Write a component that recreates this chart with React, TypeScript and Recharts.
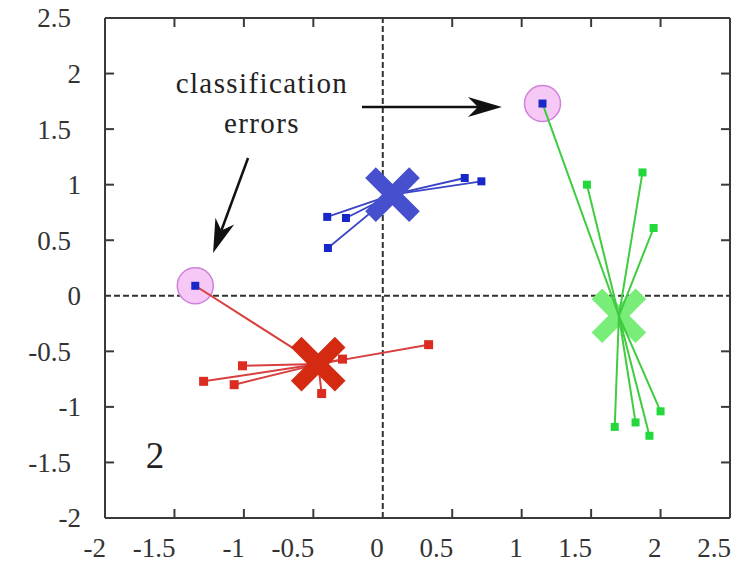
import React from "react";
import {
  ScatterChart,
  Scatter,
  XAxis,
  YAxis,
  ReferenceLine,
  ReferenceDot,
} from "recharts";

// ---- data ----
const xTicks = [-2, -1.5, -1, -0.5, 0, 0.5, 1, 1.5, 2, 2.5];
const yTicks = [-2, -1.5, -1, -0.5, 0, 0.5, 1, 1.5, 2, 2.5];
const innerXTicks = [-1.5, -1, -0.5, 0.5, 1, 1.5, 2];
const innerYTicks = [-1.5, -1, -0.5, 0.5, 1, 1.5, 2];
const frameX = [-2, 2.5];
const frameY = [-2, 2.5];

const blueCentroid = [{ x: 0.07, y: 0.91 }];
const bluePoints = [
  { x: -0.4, y: 0.71 },
  { x: -0.265, y: 0.7 },
  { x: -0.395, y: 0.43 },
  { x: 0.59, y: 1.06 },
  { x: 0.71, y: 1.03 },
];

const redCentroid = [{ x: -0.465, y: -0.615 }];
const redPoints = [
  { x: -1.01, y: -0.63 },
  { x: -1.29, y: -0.77 },
  { x: -1.07, y: -0.8 },
  { x: -0.44, y: -0.88 },
  { x: -0.29, y: -0.57 },
  { x: 0.33, y: -0.44 },
];

const greenCentroid = [{ x: 1.7, y: -0.18 }];
const greenPoints = [
  { x: 1.47, y: 1.0 },
  { x: 1.87, y: 1.11 },
  { x: 1.95, y: 0.61 },
  { x: 1.67, y: -1.18 },
  { x: 1.82, y: -1.14 },
  { x: 1.92, y: -1.26 },
  { x: 2.0, y: -1.04 },
];

// misclassified blue points and the centroid they were assigned to
const errorToRed = [{ x: -1.35, y: 0.09 }];
const errorToGreen = [{ x: 1.15, y: 1.73 }];
const errorPoints = [...errorToRed, ...errorToGreen];

const annotationLines = ["classification", "errors"];
const annotationPos = [
  { x: -0.87, y: 1.825 },
  { x: -0.87, y: 1.465 },
];
const panelLabel = "2";
const panelLabelPos = { x: -1.64, y: -1.55 };

const arrows = [
  { from: { x: -0.97, y: 1.24 }, to: { x: -1.222, y: 0.385 } },
  { from: { x: -0.15, y: 1.7 }, to: { x: 0.858, y: 1.7 } },
];

// ---- styles ----
const FONT =
  '"Liberation Serif", "Times New Roman", Times, Tinos, "Noto Serif", "DejaVu Serif", serif';
const FRAME = "#3a3a3a";
const BLUE_X = "#4650cf";
const BLUE_SQ = "#1828c8";
const BLUE_LINE = "#3a44c6";
const RED_X = "#d42a12";
const RED_SQ = "#dc2c22";
const RED_LINE = "#d84040";
const GREEN_X = "#78ee78";
const GREEN_SQ = "#22d83a";
const GREEN_LINE = "#40cc40";

const makeSegments = (c: { x: number; y: number }, pts: { x: number; y: number }[]) =>
  pts.map((p) => [c, p]);

const blueSegs = makeSegments(blueCentroid[0], bluePoints);
const redSegs = makeSegments(redCentroid[0], [...redPoints, ...errorToRed]);
const greenSegs = makeSegments(greenCentroid[0], [...greenPoints, ...errorToGreen]);

const Empty = () => <g />;

const squareShape = (fill: string, size: number) => (p: any) => (
  <rect x={p.cx - size / 2} y={p.cy - size / 2} width={size} height={size} fill={fill} />
);

const crossShape = (color: string) => (p: any) => {
  const a = 22;
  return (
    <g>
      <line x1={p.cx - a} y1={p.cy - a} x2={p.cx + a} y2={p.cy + a} stroke={color} strokeWidth={15} />
      <line x1={p.cx - a} y1={p.cy + a} x2={p.cx + a} y2={p.cy - a} stroke={color} strokeWidth={15} />
    </g>
  );
};

const circleShape = (p: any) => (
  <circle cx={p.cx} cy={p.cy} r={18} fill="#f6c8f6" stroke="#cf82dc" strokeWidth={1.5} />
);

const arrowShape = (p: any) => {
  const { x1, y1, x2, y2 } = p;
  const dx = x2 - x1;
  const dy = y2 - y1;
  const L = Math.hypot(dx, dy) || 1;
  const ux = dx / L;
  const uy = dy / L;
  const nx = -uy;
  const ny = ux;
  const hl = 34;
  const hw = 10;
  const notch = 24;
  const pts = [
    [x2, y2],
    [x2 - ux * hl + nx * hw, y2 - uy * hl + ny * hw],
    [x2 - ux * notch, y2 - uy * notch],
    [x2 - ux * hl - nx * hw, y2 - uy * hl - ny * hw],
  ]
    .map((q) => q.join(","))
    .join(" ");
  return (
    <g>
      <line x1={x1} y1={y1} x2={x2 - ux * notch} y2={y2 - uy * notch} stroke="#111" strokeWidth={2.5} />
      <polygon points={pts} fill="#111" />
    </g>
  );
};

// short inward tick marks at both ends of a full-height/width reference line
const tickMarks = (p: any) => {
  const { x1, y1, x2, y2 } = p;
  const L = 9;
  if (Math.abs(x1 - x2) < 0.5) {
    const top = Math.min(y1, y2);
    const bot = Math.max(y1, y2);
    return (
      <g>
        <line x1={x1} y1={top} x2={x1} y2={top + L} stroke={FRAME} strokeWidth={2} />
        <line x1={x1} y1={bot} x2={x1} y2={bot - L} stroke={FRAME} strokeWidth={2} />
      </g>
    );
  }
  const left = Math.min(x1, x2);
  const right = Math.max(x1, x2);
  return (
    <g>
      <line x1={left} y1={y1} x2={left + L} y2={y1} stroke={FRAME} strokeWidth={2} />
      <line x1={right} y1={y1} x2={right - L} y2={y1} stroke={FRAME} strokeWidth={2} />
    </g>
  );
};

const textShape = (txt: string, size: number, spacing: number) => (p: any) => (
  <text
    x={p.cx}
    y={p.cy}
    textAnchor="middle"
    style={{ fontFamily: FONT, fontSize: size, letterSpacing: spacing }}
    fill="#222"
  >
    {txt}
  </text>
);

const LeftTick = (p: any) => {
  const { x, y, payload } = p;
  const label = String(payload.value);
  const isDec = label.includes(".");
  return (
    <text
      x={x - (isDec ? 34 : 24)}
      y={y}
      dy="0.35em"
      textAnchor="end"
      style={{ fontFamily: FONT, fontSize: 27 }}
      fill="#333"
    >
      {label}
    </text>
  );
};

const BottomTick = (p: any) => {
  const { x, y, payload } = p;
  return (
    <text x={x + 1} y={y + 39} textAnchor="end" style={{ fontFamily: FONT, fontSize: 27 }} fill="#333">
      {String(payload.value)}
    </text>
  );
};

export default function App() {
  return (
    <div style={{ position: "absolute", left: 0, top: 0, background: "#fff" }}>
      <ScatterChart width={739} height={564} margin={{ top: 18, right: 9, bottom: 0, left: 0 }}>
        <XAxis
          dataKey="x"
          type="number"
          domain={[-2, 2.5]}
          ticks={xTicks}
          allowDataOverflow
          height={46}
          tickSize={0}
          tickMargin={0}
          tickLine={false}
          axisLine={false}
          tick={BottomTick}
          interval={0}
        />
        <YAxis
          dataKey="y"
          type="number"
          domain={[-2, 2.5]}
          ticks={yTicks}
          allowDataOverflow
          width={105}
          tickSize={0}
          tickMargin={0}
          tickLine={false}
          axisLine={false}
          tick={LeftTick}
          interval={0}
        />

        {innerXTicks.map((t) => (
          <ReferenceLine key={`tx${t}`} x={t} shape={tickMarks} />
        ))}
        {innerYTicks.map((t) => (
          <ReferenceLine key={`ty${t}`} y={t} shape={tickMarks} />
        ))}

        <ReferenceLine x={0} stroke="#333" strokeWidth={2} strokeDasharray="6 3" />
        <ReferenceLine y={0} stroke="#333" strokeWidth={2} strokeDasharray="6 3" />

        {/* misclassification circles */}
        <Scatter data={errorPoints} shape={circleShape} isAnimationActive={false} />

        {/* green centroid under its lines */}
        <Scatter data={greenCentroid} shape={crossShape(GREEN_X)} isAnimationActive={false} />
        {greenSegs.map((seg, i) => (
          <Scatter
            key={`g${i}`}
            data={seg}
            line={{ stroke: GREEN_LINE, strokeWidth: 2 }}
            shape={Empty}
            isAnimationActive={false}
          />
        ))}
        {redSegs.map((seg, i) => (
          <Scatter
            key={`r${i}`}
            data={seg}
            line={{ stroke: RED_LINE, strokeWidth: 2 }}
            shape={Empty}
            isAnimationActive={false}
          />
        ))}
        {blueSegs.map((seg, i) => (
          <Scatter
            key={`b${i}`}
            data={seg}
            line={{ stroke: BLUE_LINE, strokeWidth: 1.8 }}
            shape={Empty}
            isAnimationActive={false}
          />
        ))}

        <Scatter data={greenPoints} shape={squareShape(GREEN_SQ, 8)} isAnimationActive={false} />
        <Scatter data={redPoints} shape={squareShape(RED_SQ, 9)} isAnimationActive={false} />
        <Scatter data={bluePoints} shape={squareShape(BLUE_SQ, 8)} isAnimationActive={false} />
        <Scatter data={errorPoints} shape={squareShape(BLUE_SQ, 8)} isAnimationActive={false} />

        <Scatter data={redCentroid} shape={crossShape(RED_X)} isAnimationActive={false} />
        <Scatter data={blueCentroid} shape={crossShape(BLUE_X)} isAnimationActive={false} />

        {arrows.map((a, i) => (
          <ReferenceLine key={`a${i}`} segment={[a.from, a.to]} shape={arrowShape} />
        ))}

        {annotationLines.map((t, i) => (
          <ReferenceDot
            key={`t${i}`}
            x={annotationPos[i].x}
            y={annotationPos[i].y}
            r={0}
            shape={textShape(t, 29, 1.4)}
          />
        ))}
        <ReferenceDot x={panelLabelPos.x} y={panelLabelPos.y} r={0} shape={textShape(panelLabel, 37, 0)} />

        {frameX.map((t) => (
          <ReferenceLine key={`fx${t}`} x={t} stroke={FRAME} strokeWidth={2} ifOverflow="visible" />
        ))}
        {frameY.map((t) => (
          <ReferenceLine key={`fy${t}`} y={t} stroke={FRAME} strokeWidth={2} ifOverflow="visible" />
        ))}
      </ScatterChart>
    </div>
  );
}
